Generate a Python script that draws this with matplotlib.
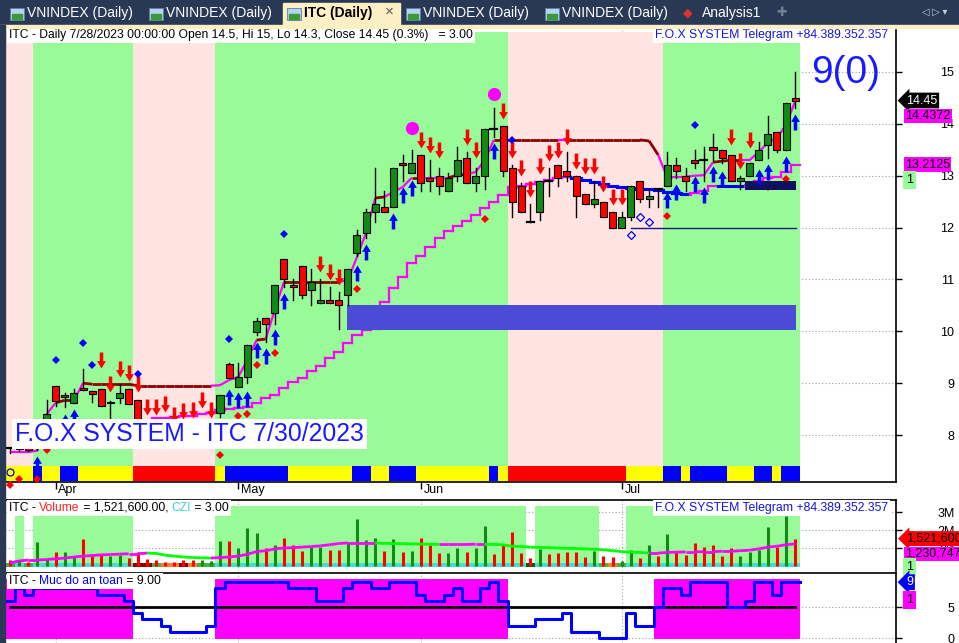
import numpy as np
import pandas as pd
import matplotlib
matplotlib.use("Agg")
import matplotlib.pyplot as plt

plt.rcParams['font.family'] = ['Liberation Sans', 'DejaVu Sans']

# ---------------- data ----------------
# trading days shown (Hung Kings / May Day holiday 1-3 May removed)
dates = pd.bdate_range("2023-03-27", "2023-07-28")
dates = dates[(dates < "2023-05-01") | (dates > "2023-05-03")]

opens = [7.75, 7.73, 7.77, 7.75, 7.85, 8.95, 8.73, 8.62, 8.91, 8.85,
         8.89, 8.62, 8.71, 8.89, 8.68, 8.20, 8.10, 8.20, 8.15, 8.10,
         8.10, 8.05, 8.15, 8.42, 9.37, 8.93, 9.12, 9.99, 10.25, 10.35,
         11.40, 10.90, 11.25, 10.80, 10.55, 10.60, 10.60, 10.70, 11.50, 11.90,
         12.30, 12.40, 12.40, 13.25, 13.05, 13.40, 12.95, 13.00, 12.70, 13.00,
         13.35, 12.85, 13.00, 13.90, 13.95, 13.15, 12.80, 12.10, 12.30, 12.90,
         13.20, 13.10, 13.00, 12.65, 12.45, 12.50, 12.30, 12.00, 12.20, 12.90,
         12.55, 12.75, 12.80, 13.20, 13.00, 13.30, 13.30, 13.55, 13.50, 13.40,
         12.90, 13.00, 13.30, 13.60, 13.85, 13.50, 14.50]
highs = [7.75, 7.80, 7.80, 7.85, 8.68, 8.95, 8.81, 8.89, 9.27, 8.85,
         8.89, 8.66, 8.98, 8.89, 8.68, 8.25, 8.20, 8.25, 8.20, 8.20,
         8.25, 8.28, 8.28, 8.77, 9.39, 9.39, 9.74, 10.25, 10.25, 10.90,
         11.40, 11.00, 11.25, 11.20, 11.00, 10.85, 10.75, 11.20, 11.95, 12.35,
         13.15, 12.70, 13.15, 13.40, 13.50, 13.40, 13.30, 13.15, 13.05, 13.55,
         13.45, 13.15, 13.90, 14.30, 13.95, 13.20, 12.85, 12.45, 12.90, 13.15,
         13.20, 13.45, 13.00, 12.65, 12.90, 12.50, 12.30, 12.30, 12.80, 12.90,
         12.75, 12.75, 13.45, 13.35, 13.15, 13.50, 13.55, 13.80, 13.50, 13.40,
         13.00, 13.25, 13.65, 14.15, 13.85, 14.40, 15.00]
lows = [7.65, 7.70, 7.70, 7.72, 7.80, 8.55, 8.54, 8.62, 8.87, 8.64,
        8.56, 8.33, 8.62, 8.60, 8.15, 8.05, 8.00, 8.05, 8.00, 8.00,
        8.00, 8.00, 8.05, 8.35, 9.10, 8.93, 9.00, 9.93, 9.80, 10.15,
        10.85, 10.60, 10.65, 10.50, 10.55, 10.55, 10.05, 10.50, 11.45, 11.80,
        12.10, 12.30, 12.40, 12.90, 13.05, 12.70, 12.70, 12.65, 12.70, 12.90,
        12.85, 12.70, 12.75, 13.75, 13.00, 12.20, 12.30, 12.10, 12.15, 12.60,
        12.80, 12.90, 12.20, 12.45, 12.40, 12.20, 12.00, 12.00, 12.15, 12.50,
        12.40, 12.40, 12.80, 12.95, 12.70, 13.15, 12.90, 13.30, 13.25, 12.90,
        12.75, 13.00, 13.30, 13.35, 13.45, 13.50, 14.30]
closes = [7.75, 7.77, 7.72, 7.80, 8.40, 8.65, 8.77, 8.81, 8.87, 8.79,
          8.56, 8.64, 8.81, 8.60, 8.20, 8.10, 8.05, 8.10, 8.05, 8.05,
          8.05, 8.20, 8.27, 8.77, 9.10, 9.12, 9.74, 10.20, 10.15, 10.90,
          11.00, 10.85, 10.70, 10.95, 10.60, 10.55, 10.50, 11.20, 11.85, 12.30,
          12.45, 12.30, 13.15, 13.20, 13.25, 12.85, 12.90, 12.80, 12.95, 13.30,
          12.85, 13.00, 13.90, 13.90, 13.10, 12.50, 12.30, 12.10, 12.90, 12.90,
          12.95, 13.00, 12.60, 12.45, 12.55, 12.20, 12.00, 12.20, 12.80, 12.55,
          12.60, 12.75, 13.20, 13.10, 12.90, 13.25, 13.30, 13.50, 13.35, 12.90,
          12.95, 13.25, 13.50, 13.80, 13.50, 14.40, 14.45]

# volume in millions of shares and its moving average
volume_m = [0.33, 0.33, 0.20, 1.35, 0.39, 0.80, 0.80, 0.56, 1.50, 0.67,
            0.67, 0.56, 0.61, 0.46, 0.80, 0.40, 0.35, 0.24, 0.24, 0.33,
            0.33, 0.33, 0.28, 1.41, 1.41, 0.98, 2.09, 1.85, 1.02, 1.17,
            1.54, 1.17, 0.85, 1.04, 1.04, 0.89, 0.89, 1.35, 2.61, 1.44,
            1.57, 0.83, 1.48, 0.80, 0.83, 1.54, 1.17, 0.74, 0.70, 1.02,
            0.76, 1.02, 2.20, 0.65, 1.20, 1.87, 0.70, 0.46, 0.93, 0.65,
            0.70, 0.80, 0.80, 0.52, 0.83, 0.56, 0.48, 0.28, 0.89, 0.46,
            1.17, 0.57, 1.78, 0.76, 0.61, 1.26, 1.07, 1.17, 0.56, 0.98,
            0.56, 0.80, 0.89, 2.15, 1.07, 2.78, 1.5216]
vol_ma_m = [0.17, 0.28, 0.33, 0.33, 0.36, 0.40, 0.44, 0.50, 0.55, 0.58,
            0.62, 0.64, 0.66, 0.68, 0.68, 0.72, 0.70, 0.60, 0.55, 0.50,
            0.47, 0.45, 0.44, 0.47, 0.50, 0.55, 0.65, 0.80, 0.85, 0.95,
            1.00, 1.02, 1.05, 1.08, 1.12, 1.18, 1.25, 1.28, 1.28, 1.28,
            1.28, 1.26, 1.25, 1.24, 1.23, 1.22, 1.21, 1.20, 1.20, 1.20,
            1.20, 1.21, 1.21, 1.20, 1.18, 1.10, 1.08, 1.05, 1.03, 1.02,
            1.00, 0.98, 0.97, 0.95, 0.93, 0.90, 0.85, 0.80, 0.77, 0.75,
            0.72, 0.72, 0.75, 0.77, 0.78, 0.78, 0.80, 0.80, 0.82, 0.82,
            0.85, 0.88, 0.95, 1.05, 1.10, 1.18, 1.230747]

# fast trailing line (m = magenta rising, b = brown resistance)
upper_line = [7.67, 7.67, 7.67, 7.70, 8.40, 8.62, 8.67, 8.67, 9.00, 8.98,
              8.98, 8.98, 8.98, 8.98, 8.95, 8.95, 8.95, 8.95, 8.95, 8.95,
              8.95, 8.95, 8.95, 8.96, 9.06, 9.12, 9.45, 9.83, 9.85, 10.41,
              10.95, 10.95, 10.95, 10.95, 10.95, 10.95, 10.95, 10.99, 11.43, 11.90,
              12.57, 12.59, 12.69, 12.78, 12.96, 12.96, 12.96, 12.96, 12.96, 13.01,
              13.03, 13.07, 13.30, 13.69, 13.69, 13.69, 13.69, 13.69, 13.69, 13.69,
              13.69, 13.69, 13.69, 13.69, 13.69, 13.69, 13.69, 13.69, 13.69, 13.69,
              13.67, 13.40, 12.96, 12.98, 12.98, 13.00, 13.01, 13.26, 13.28, 13.30,
              13.30, 13.30, 13.46, 13.63, 13.73, 13.98, 14.4372]
upper_state = ("mmmmmmbbmbbbbbbbbbbbbbbmmmmmbmmbbbbbbmmmmbmmmbmmmbbmmmbbbbbbbm"
               "bbbbbbbbbbmmmmmmbbbmmmmmm")

# slow stepped stop line (m = magenta rising, u = blue falling)
lower_line = [np.nan] * 16 + [
    8.33, 8.33, 8.35, 8.37, 8.37, 8.40, 8.42, 8.48, 8.50, 8.52,
    8.54, 8.62, 8.71, 8.77, 8.91, 9.02, 9.10, 9.23, 9.33, 9.48,
    9.60, 9.77, 9.93, 10.03, 10.35, 10.56, 10.83, 11.05, 11.32, 11.45,
    11.63, 11.80, 11.93, 12.03, 12.13, 12.24, 12.38, 12.49, 12.63, 12.78,
    12.80, 12.84, 12.88, 12.92, 12.96, 12.98, 12.96, 12.92, 12.88, 12.84,
    12.80, 12.78, 12.76, 12.74, 12.74, 12.72, 12.69, 12.67, 12.65, 12.67,
    12.71, 12.80, 12.80, 12.80, 12.80, 12.82, 12.90, 12.96, 12.98, 13.07,
    13.2125]
lower_state = "m" * 62 + "u" * 13 + "mmm" + "uuu" + "m" * 6

# colour ribbon at the foot of the price pane (Y yellow, B blue, R red)
ribbon_runs = [("Y", 3), ("B", 1), ("Y", 2), ("B", 2), ("Y", 6), ("R", 9), ("Y", 1),
               ("B", 7), ("Y", 7), ("B", 2), ("Y", 2), ("B", 3), ("Y", 8), ("B", 1),
               ("Y", 1), ("R", 13), ("Y", 4), ("B", 2), ("Y", 1), ("B", 4), ("Y", 3),
               ("B", 2), ("Y", 1), ("B", 2)]
# background state of the price pane (P pink, G green)
price_bg_runs = [("P", 3), ("G", 11), ("P", 9), ("G", 32), ("P", 17), ("G", 15)]
# background state of the volume pane (W white, G green)
vol_bg_runs = [("W", 1), ("G", 1), ("W", 1), ("G", 11), ("W", 9), ("G", 34),
               ("W", 1), ("G", 7), ("W", 3), ("G", 19)]
czi_other = {0: "#3cb83c", 2: "#3cb83c", 14: "#8b0000", 15: "#8b0000", 16: "#3cb83c",
             17: "#ff7f27", 18: "#ff7f27", 19: "#8b0000", 20: "#ff7f27", 21: "#3cb83c",
             22: "#3cb83c", 57: "#0b5e0b", 65: "#3cb83c", 66: "#ff7f27", 67: "#3cb83c"}

# "Muc do an toan" (safety level 0-9)
safety = [6, 8, 7, 8, 8, 8, 8, 8, 8, 8, 7, 7, 7, 6, 4, 3, 3, 2, 1, 1, 1, 1, 2, 8,
          9, 9, 9, 9, 9, 9, 9, 8, 8, 8, 6, 6, 6, 8, 9, 9, 8, 8, 9, 9, 9, 7, 6, 6,
          7, 8, 6, 6, 8, 9, 6, 2, 2, 2, 3, 3, 3, 4, 1, 1, 1, 0, 0, 0, 4, 2, 2, 5,
          8, 8, 7, 9, 9, 9, 9, 5, 5, 6, 9, 9, 7, 9, 9]

# signals
buy_bars = [3, 6, 7, 24, 25, 26, 27, 28, 29, 30, 38, 39, 42, 43, 44, 53, 72, 73,
            75, 76, 77, 78, 82, 83, 85, 86]
buy_price = [7.44, 8.25, 8.35, 8.73, 8.68, 8.69, 9.64, 9.52, 9.89, 10.58, 11.12,
             11.53, 12.13, 12.63, 12.76, 13.48, 12.53, 12.69, 12.84, 12.63, 13.03,
             12.94, 12.98, 13.07, 13.23, 14.04]
sell_bars = [10, 11, 12, 13, 14, 15, 16, 17, 18, 19, 20, 21, 22, 34, 35, 36, 45, 46,
             47, 50, 51, 54, 55, 56, 57, 58, 59, 60, 61, 62, 63, 64, 65, 66, 67, 79,
             80, 81]
sell_price = [9.45, 8.98, 9.27, 9.20, 8.98, 8.54, 8.54, 8.60, 8.39, 8.46, 8.48,
              8.68, 8.48, 11.30, 11.14, 11.05, 13.69, 13.59, 13.50, 13.75, 13.50,
              14.25, 13.50, 13.15, 12.74, 13.19, 13.44, 13.50, 13.75, 13.28, 13.19,
              13.19, 12.84, 12.59, 12.59, 13.75, 13.28, 13.69]
blue_dot_bars = [5, 8, 9, 14, 24, 30, 55, 75]
blue_dot_price = [9.45, 9.77, 9.35, 9.18, 9.85, 11.88, 13.69, 13.98]
red_dot_bars = [0, 1, 3, 4, 23, 25, 26, 27, 29, 38, 52, 72, 83, 85]
red_dot_price = [7.04, 7.15, 7.15, 7.71, 7.61, 8.37, 8.41, 9.35, 9.58, 10.82,
                 12.17, 12.22, 12.78, 12.94]
hollow_bars = [68, 69, 70]
hollow_price = [11.86, 12.20, 12.11]
peak_bars = [44, 53]
peak_price = [13.92, 14.58]

# zones
zone_start, zone_end, zone_lo, zone_hi = 37, 86, 10.03, 10.50
base_start, base_end, base_lo, base_hi = 81, 86, 12.72, 12.90
support_start, support_level = 68, 12.0

# ---------------- helpers ----------------
def expand(runs):
    out = []
    for code, k in runs:
        out += [code] * k
    return out

n = len(closes)
x = np.arange(n)
ribbon = expand(ribbon_runs)
price_bg = expand(price_bg_runs)
vol_bg = expand(vol_bg_runs)

W, H = 959, 643
fig = plt.figure(figsize=(W / 100, H / 100), dpi=100)
fig.patch.set_facecolor("white")


def px_axes(x0, y0, x1, y1):
    return fig.add_axes([x0 / W, 1 - y1 / H, (x1 - x0) / W, (y1 - y0) / H])


def runs_of(codes):
    start = 0
    for i in range(1, len(codes) + 1):
        if i == len(codes) or codes[i] != codes[start]:
            yield codes[start], start, i - 1
            start = i


def stairs(vals):
    xs, ys = [], []
    for i, v in enumerate(vals):
        xs += [i - 0.5, i + 0.5]
        ys += [v, v]
    return np.array(xs), np.array(ys)


GREEN_BG = "#98fb98"
PINK_BG = "#ffe4e1"
MAGENTA = "#ff00ff"
BROWN = "#8b0000"
BLUE = "#0000ff"
CANDLE_G = "#138a13"
RED = "#ff0000"
XLIM = ((5 - 10) / 9.13, (896 - 10) / 9.13)
HDR = 8.7

# ---------------- chrome: tab bar and frame ----------------
fig.add_artist(plt.Rectangle((0, 1 - 25 / H), 1, 25 / H, color="#293955", transform=fig.transFigure))
fig.add_artist(plt.Rectangle((0, 1 - 28 / H), 1, 3.5 / H, color="#fcefc4", transform=fig.transFigure))
fig.add_artist(plt.Rectangle((283 / W, 1 - 26 / H), 117 / W, 23 / H, color="#fcefc4", transform=fig.transFigure))
fig.add_artist(plt.Rectangle((0, 0), 5 / W, 1 - 25 / H, color="#293955", transform=fig.transFigure))
tabs = [(10, "VNINDEX (Daily)"), (149, "VNINDEX (Daily)"), (287, "ITC (Daily)"),
        (406, "VNINDEX (Daily)"), (545, "VNINDEX (Daily)")]
for tx, label in tabs:
    fig.add_artist(plt.Rectangle((tx / W, 1 - 20 / H), 14 / W, 12 / H, facecolor="#b9d3ee",
                                 edgecolor="#5b7fb0", lw=0.6, transform=fig.transFigure))
    fig.add_artist(plt.Rectangle(((tx + 2) / W, 1 - 19 / H), 10 / W, 5 / H, color="#3a9a3a",
                                 transform=fig.transFigure))
    active = label.startswith("ITC")
    fig.text((tx + 17) / W, 1 - 13 / H, label, fontsize=10, va="center",
             color="black" if active else "white", fontweight="bold" if active else "normal")
fig.text(385 / W, 1 - 12 / H, "\u00d7", fontsize=11, va="center", color="#555555")
fig.text(683 / W, 1 - 13 / H, "\u25c6", fontsize=9, va="center", color="#e03030")
fig.text(702 / W, 1 - 13 / H, "Analysis1", fontsize=10, va="center", color="white")
fig.text(776 / W, 1 - 13 / H, "\u271a", fontsize=9, va="center", color="#6f7d95")
fig.text(922 / W, 1 - 12 / H, "\u25c1 \u25b7 \u25be", fontsize=7, va="center", color="#c8d0dc")

# ---------------- price pane ----------------
ax = px_axes(5, 28, 896, 482)
ax.set_xlim(*XLIM)
ax.set_ylim(7.094, 15.848)

for lvl in range(8, 16):
    ax.axhline(lvl, color="#a0a0a0", lw=0.8, ls=(0, (1, 2)), zorder=0)
bg_col = {"P": PINK_BG, "G": GREEN_BG}
for code, a, b in runs_of(price_bg):
    ax.axvspan(a - 0.5, b + 0.5, ymin=0.0352, ymax=0.991, color=bg_col[code], lw=0, zorder=0.5)
rib_col = {"Y": "#ffff00", "B": "#0000ff", "R": "#ff0000"}
for code, a, b in runs_of(ribbon):
    ax.axvspan(a - 0.5, b + 0.5, ymin=0.0022, ymax=0.0352, color=rib_col[code], lw=0, zorder=0.6)

# fast line: segments coloured by state of the bar they end on
up_col = {"m": MAGENTA, "b": BROWN}
for i in range(1, n):
    c = up_col[upper_state[i]]
    ax.plot([i - 1, i], [upper_line[i - 1], upper_line[i]], color=c,
            lw=2.0 if upper_state[i] == "b" else 1.6, zorder=2, solid_capstyle="butt")

# slow stepped line
lo_col = {"m": MAGENTA, "u": BLUE}
for i in range(n):
    if np.isnan(lower_line[i]):
        continue
    c = lo_col[lower_state[i]]
    lw = 2.2 if lower_state[i] == "u" else 1.6
    ax.plot([i - 0.5, i + 0.5], [lower_line[i], lower_line[i]], color=c, lw=lw, zorder=2)
    if i + 1 < n and not np.isnan(lower_line[i + 1]):
        ax.plot([i + 0.5, i + 0.5], [lower_line[i], lower_line[i + 1]],
                color=lo_col[lower_state[i + 1]], lw=lw, zorder=2)

# zones
ax.add_patch(plt.Rectangle((zone_start - 0.1, zone_lo), zone_end - zone_start + 0.2,
                           zone_hi - zone_lo, color="#4b4bd8", lw=0, zorder=2.5))
ax.plot([support_start, base_end + 0.1], [support_level, support_level], color="#1a1a7a",
        lw=1.0, zorder=2.5)

# candles
body_w = 0.77
for i in range(n):
    o, h, l, c = opens[i], highs[i], lows[i], closes[i]
    ax.plot([i, i], [l, h], color="black", lw=1.0, zorder=3)
    if abs(c - o) <= 0.02:
        ax.plot([i - body_w / 2, i + body_w / 2], [c, c], color="black", lw=1.6, zorder=3.1)
    else:
        col = CANDLE_G if c > o else RED
        ax.add_patch(plt.Rectangle((i - body_w / 2, min(o, c)), body_w, abs(c - o),
                                   facecolor=col, edgecolor="black", lw=0.8, zorder=3.1))

# markers
up_arrow = [(0, 1), (0.55, 0.08), (0.22, 0.08), (0.22, -1), (-0.22, -1), (-0.22, 0.08),
            (-0.55, 0.08), (0, 1)]
down_arrow = [(vx, -vy) for vx, vy in up_arrow]
ax.plot(red_dot_bars, red_dot_price, "D", color=RED, ms=4.2, mew=0, zorder=3.3, clip_on=False)
ax.add_patch(plt.Rectangle((base_start - 0.45, base_lo), base_end - base_start + 0.55,
                           base_hi - base_lo, color="#10105e", lw=0, zorder=3.5))
ax.plot(buy_bars, buy_price, ls="none", marker=up_arrow, color=BLUE, ms=11.5, mew=0, zorder=4)
ax.plot(sell_bars, sell_price, ls="none", marker=down_arrow, color=RED, ms=11.5, mew=0, zorder=4)
ax.plot(blue_dot_bars, blue_dot_price, "D", color=BLUE, ms=4.2, mew=0, zorder=4)
ax.plot(hollow_bars, hollow_price, "D", mfc="none", mec=BLUE, ms=4.5, mew=0.9, zorder=4)
ax.plot(peak_bars, peak_price, "o", color=MAGENTA, ms=9.5, mew=0, zorder=4)
ax.plot([0], [7.28], "o", mfc="#ffff00", mec=BLUE, ms=5, mew=0.9, zorder=4)

# axes styling
for s in ["top", "left"]:
    ax.spines[s].set_visible(False)
ax.spines["bottom"].set_linewidth(1.2)
ax.spines["right"].set_linewidth(1.2)
ax.yaxis.tick_right()
ax.set_yticks(range(8, 16))
ax.tick_params(axis="y", length=4, width=1, pad=38, labelsize=9)
for t in ax.get_yticklabels():
    t.set_horizontalalignment("right")
month_idx = [i for i in range(1, n) if dates[i].month != dates[i - 1].month]
ax.set_xticks(month_idx)
ax.set_xticklabels([])
ax.tick_params(axis="x", length=5, width=1)
for i in month_idx:
    ax.text(i + 0.3, -0.0176, dates[i].strftime("%b"), transform=ax.get_xaxis_transform(),
            fontsize=9, va="center", ha="left")
    ax.axvline(i, color="#a0a0a0", lw=0.8, ls=(0, (1, 2)), zorder=0)

# pane texts
ax.text(4 / 891, 1 - 7 / 454, "ITC - Daily %s 00:00:00 Open %s, Hi %s, Lo %s, Close %s (0.3%%)   = 3.00"
        % (f"{dates[-1].month}/{dates[-1].day}/{dates[-1].year}", f"{opens[-1]:g}", f"{highs[-1]:g}",
           f"{lows[-1]:g}", f"{closes[-1]:g}"),
        transform=ax.transAxes, fontsize=HDR, va="center", ha="left", zorder=10,
        bbox=dict(fc="white", ec="none", pad=1.5))
ax.text(650 / 891, 1 - 7 / 454, "F.O.X SYSTEM Telegram +84.389.352.357", transform=ax.transAxes,
        fontsize=8.8, color="#1414e6", va="center", ha="left", zorder=10,
        bbox=dict(fc="white", ec="none", pad=1.5))
ax.text(806 / 891, 1 - 45 / 454, "9(0)", transform=ax.transAxes, fontsize=28, color="#1a1aff",
        va="center", ha="left", zorder=10)
ax.text(10 / 891, (482 - 434) / 454, "F.O.X SYSTEM - ITC 7/30/2023", transform=ax.transAxes,
        fontsize=17.8, color="#1a1aff", va="center", ha="left", zorder=10,
        bbox=dict(fc="white", ec="none", pad=2))

# value labels on the price scale
yt = ax.get_yaxis_transform()
ax.annotate(f"{closes[-1]:.2f}", xy=(1.0, closes[-1]), xycoords=yt, xytext=(10, 0),
            textcoords="offset pixels", fontsize=9, color="white", va="center", ha="left",
            bbox=dict(boxstyle="larrow,pad=0.15", fc="black", ec="none"), annotation_clip=False, zorder=11)
ax.annotate(f"{upper_line[-1]:.4f}", xy=(1.0, upper_line[-1]), xycoords=yt, xytext=(9, -15),
            textcoords="offset pixels", fontsize=9, color="black", va="center", ha="left",
            bbox=dict(boxstyle="square,pad=0.1", fc=MAGENTA, ec="none"), annotation_clip=False, zorder=11)
ax.annotate(f"{lower_line[-1]:.4f}", xy=(1.0, lower_line[-1]), xycoords=yt, xytext=(9, 0),
            textcoords="offset pixels", fontsize=9, color="black", va="center", ha="left",
            bbox=dict(boxstyle="square,pad=0.1", fc=MAGENTA, ec="none"), annotation_clip=False, zorder=11)
ax.annotate("1", xy=(1.0, lower_line[-1]), xycoords=yt, xytext=(10, -15),
            textcoords="offset pixels", fontsize=9, color="black", va="center", ha="left",
            bbox=dict(boxstyle="square,pad=0.25", fc=GREEN_BG, ec="none"), annotation_clip=False, zorder=11)

# ---------------- volume pane ----------------
axv = px_axes(5, 500, 896, 571)
axv.set_xlim(*XLIM)
axv.set_ylim(-0.278, 3.667)
for lvl in [1, 2, 3]:
    axv.axhline(lvl, color="#a0a0a0", lw=0.8, ls=(0, (1, 2)), zorder=0)
for i in month_idx:
    axv.axvline(i, color="#a0a0a0", lw=0.8, ls=(0, (1, 2)), zorder=0)
for code, a, b in runs_of(vol_bg):
    if code == "G":
        axv.axvspan(a - 0.5, b + 0.5, ymin=0.056, ymax=0.915, color=GREEN_BG, lw=0, zorder=0.5)
for i in range(n):
    col = "#40e0d0" if vol_bg[i] == "G" else czi_other.get(i, "#3cb83c")
    axv.axvspan(i - 0.5, i + 0.5, ymin=0.056, ymax=0.113, color=col, lw=0, zorder=0.7)
vcols = [CANDLE_G if closes[i] > opens[i] else RED for i in range(n)]
axv.vlines(x, 0, volume_m, colors=vcols, lw=2.2, zorder=1)
for i in range(1, n):
    c = MAGENTA if vol_ma_m[i] >= vol_ma_m[i - 1] else "#00ff00"
    axv.plot([i - 1, i], [vol_ma_m[i - 1], vol_ma_m[i]], color=c, lw=2, zorder=1.5,
             solid_capstyle="butt")
for s in ["left", "bottom"]:
    axv.spines[s].set_visible(False)
axv.spines["top"].set_linewidth(1.2)
axv.spines["right"].set_linewidth(1.2)
axv.set_xticks([])
axv.yaxis.tick_right()
axv.set_yticks([1, 2, 3])
axv.set_yticklabels(["1M", "2M", "3M"])
axv.tick_params(axis="y", length=4, width=1, pad=38, labelsize=9)
for t in axv.get_yticklabels():
    t.set_horizontalalignment("right")

# multi-coloured header on one white strip
renderer = fig.canvas.get_renderer()


def header(axes, pieces, y_px_from_top, x_px=9):
    xx = x_px / W
    bb_ax = axes.get_position()
    yy = bb_ax.y1 - y_px_from_top / H
    x_start = xx
    for s, c in pieces:
        t = fig.text(xx, yy, s, color=c, fontsize=HDR, va="center", ha="left", zorder=10)
        ext = t.get_window_extent(renderer)
        xx = ext.x1 / W
    fig.add_artist(plt.Rectangle((x_start - 2 / W, yy - 8 / H), xx - x_start + 4 / W, 16 / H,
                                 color="white", lw=0, zorder=9, transform=fig.transFigure))


header(axv, [("ITC - ", "black"), ("Volume", "#ff2020"),
             (f" = {volume_m[-1] * 1e6:,.2f}, ", "black"), ("CZI", "#40d0d0"), (" = 3.00", "black")], 8)
fig.text(655 / W, 1 - 508 / H, "F.O.X SYSTEM Telegram +84.389.352.357", fontsize=8.8,
         color="#1414e6", va="center", ha="left", zorder=10, bbox=dict(fc="white", ec="none", pad=1.2))
yv = axv.get_yaxis_transform()
axv.annotate(f"{volume_m[-1] * 1e6:,.0f}", xy=(1.0, volume_m[-1]), xycoords=yv, xytext=(10, 0),
             textcoords="offset pixels", fontsize=9, color="black", va="center", ha="left",
             bbox=dict(boxstyle="larrow,pad=0.12", fc=RED, ec="none"), annotation_clip=False, zorder=11)
axv.annotate(f"{vol_ma_m[-1] * 1e6:,.0f}", xy=(1.0, vol_ma_m[-1]), xycoords=yv, xytext=(9, -10),
             textcoords="offset pixels", fontsize=9, color="black", va="center", ha="left",
             bbox=dict(boxstyle="square,pad=0.1", fc=MAGENTA, ec="none"), annotation_clip=False, zorder=11)
axv.annotate("1", xy=(1.0, 0), xycoords=yv, xytext=(10, -1),
             textcoords="offset pixels", fontsize=9, color="black", va="center", ha="left",
             bbox=dict(boxstyle="square,pad=0.25", fc=GREEN_BG, ec="none"), annotation_clip=False, zorder=11)

# ---------------- safety level pane ----------------
axl = px_axes(5, 573, 896, 643)
axl.set_xlim(*XLIM)
axl.set_ylim(-0.806, 10.484)
for lvl in [0, 5]:
    axl.axhline(lvl, color="#a0a0a0", lw=0.8, ls=(0, (1, 2)), zorder=0)
for i in month_idx:
    axl.axvline(i, color="#a0a0a0", lw=0.8, ls=(0, (1, 2)), zorder=0)
safe_flag = ["S" if v >= 5 else "N" for v in safety]
for code, a, b in runs_of(safe_flag):
    if code == "S":
        axl.axvspan(a - 0.5, b + 0.5, ymin=0.057, ymax=0.914, color=MAGENTA, lw=0, zorder=0.5)
axl.plot([0, n - 1], [5, 5], color="black", lw=2, zorder=1)
lx, ly = stairs(safety)
axl.plot(lx, ly, color=BLUE, lw=2.2, zorder=2)
for s in ["left", "bottom"]:
    axl.spines[s].set_visible(False)
axl.spines["top"].set_linewidth(1.2)
axl.spines["right"].set_linewidth(1.2)
axl.set_xticks([])
axl.yaxis.tick_right()
axl.set_yticks([0, 5])
axl.tick_params(axis="y", length=4, width=1, pad=38, labelsize=9)
for t in axl.get_yticklabels():
    t.set_horizontalalignment("right")
header(axl, [("ITC - ", "black"), ("Muc do an toan", BLUE), (f" = {safety[-1]:.2f}", "black")], 8)
yl = axl.get_yaxis_transform()
axl.annotate(f"{safety[-1]}", xy=(1.0, safety[-1]), xycoords=yl, xytext=(10, 0),
             textcoords="offset pixels", fontsize=9, color="white", va="center", ha="left",
             bbox=dict(boxstyle="larrow,pad=0.15", fc=BLUE, ec="none"), annotation_clip=False, zorder=11)
axl.annotate("1", xy=(1.0, safety[-1]), xycoords=yl, xytext=(10, -18),
             textcoords="offset pixels", fontsize=9, color="black", va="center", ha="left",
             bbox=dict(boxstyle="square,pad=0.25", fc=MAGENTA, ec="none"), annotation_clip=False, zorder=11)

fig.savefig("out.png", dpi=100)
